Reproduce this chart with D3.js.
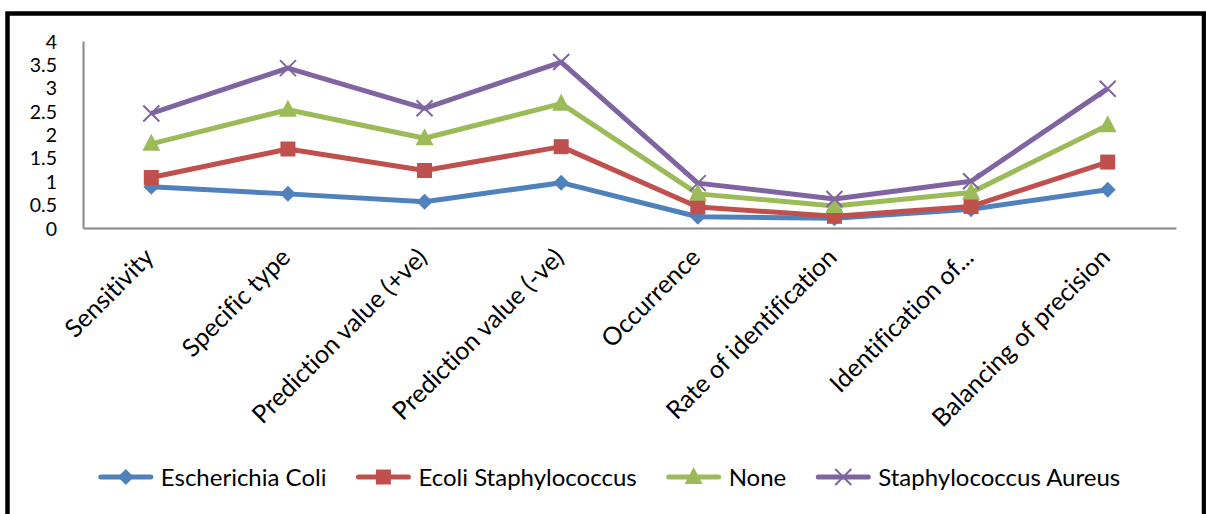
<!DOCTYPE html>
<html>
<head>
<meta charset="utf-8">
<script src="https://cdn.jsdelivr.net/npm/d3@7"></script>
<style>
  html, body { margin: 0; padding: 0; background: #fff; }
  svg { display: block; font-family: Lato, "Noto Sans", sans-serif; font-variant-ligatures: none; font-feature-settings: "liga" 0, "clig" 0; }
  svg text { font-variant-ligatures: none; font-feature-settings: "liga" 0, "clig" 0; }
</style>
</head>
<body>
<svg id="chart" width="1206" height="514"></svg>
<script>
// Diagnostic measures per category
const categories = [
  "Sensitivity", "Specific type", "Prediction value (+ve)", "Prediction value (-ve)",
  "Occurrence", "Rate of identification", "Identification of...", "Balancing of precision"
];

const seriesNames = ["Escherichia Coli", "Ecoli Staphylococcus", "None", "Staphylococcus Aureus"];

const escherichiaColi      = [0.88, 0.73, 0.56, 0.97, 0.24, 0.21, 0.40, 0.82];
const ecoliStaphylococcus  = [1.08, 1.69, 1.23, 1.74, 0.45, 0.25, 0.46, 1.41];
const noneValues           = [1.80, 2.53, 1.92, 2.66, 0.73, 0.47, 0.76, 2.20];
const staphylococcusAureus = [2.45, 3.42, 2.56, 3.55, 0.96, 0.62, 1.00, 2.98];

const yTicks = [0, 0.5, 1, 1.5, 2, 2.5, 3, 3.5, 4];

const seriesValues = [escherichiaColi, ecoliStaphylococcus, noneValues, staphylococcusAureus];
const colors = ["#4F81BD", "#C0504D", "#9BBB59", "#8064A2"];
const markers = ["diamond", "square", "triangle", "cross"];

const svg = d3.select("#chart");

// outer frame
svg.append("rect")
  .attr("x", 7.5).attr("y", 13.5)
  .attr("width", 1196.5).attr("height", 520)
  .attr("fill", "none").attr("stroke", "#000").attr("stroke-width", 4.5);

const plot = { left: 83, right: 1176, top: 41, bottom: 228 };

const x = d3.scaleBand().domain(categories).range([plot.left, plot.right]).padding(0);
const cx = c => x(c) + x.bandwidth() / 2;
const y = d3.scaleLinear().domain([0, 4]).range([plot.bottom, plot.top]);

// y axis
const yAxis = svg.append("g")
  .attr("transform", `translate(${plot.left},0)`)
  .call(d3.axisLeft(y).tickValues(yTicks).tickFormat(d => String(d)).tickSize(0).tickPadding(26));
yAxis.select(".domain").attr("stroke", "#868686").attr("stroke-width", 2);
yAxis.selectAll("text")
  .attr("fill", "#000")
  .attr("dy", "0.36em")
  .style("font-size", "19.5px")
  .style("font-family", "Lato, sans-serif");

// x axis
const xAxis = svg.append("g")
  .attr("transform", `translate(0,${plot.bottom})`)
  .call(d3.axisBottom(x).tickSize(0).tickFormat(""));
xAxis.select(".domain").attr("stroke", "#868686").attr("stroke-width", 2);

// rotated category labels
svg.append("g").selectAll("text")
  .data(categories)
  .join("text")
  .attr("text-anchor", "end")
  .attr("transform", d => `translate(${cx(d) + 4},${plot.bottom + 31}) rotate(-45)`)
  .attr("fill", "#000")
  .style("font-size", "25px")
  .text(d => d);

// marker shapes
function drawMarker(g, type, color) {
  if (type === "diamond") {
    g.append("path").attr("d", "M0,-8L8,0L0,8L-8,0Z").attr("fill", color);
  } else if (type === "square") {
    g.append("rect").attr("x", -7.5).attr("y", -7.5).attr("width", 15).attr("height", 15).attr("fill", color);
  } else if (type === "triangle") {
    g.append("path").attr("d", "M0,-10L9,7L-9,7Z").attr("fill", color);
  } else {
    g.append("path").attr("d", "M-8,-8L8,8M-8,8L8,-8").attr("stroke", color).attr("stroke-width", 2).attr("fill", "none");
  }
}

const line = d3.line().x((d, i) => cx(categories[i])).y(d => y(d));

seriesValues.forEach((vals, si) => {
  svg.append("path")
    .datum(vals)
    .attr("d", line)
    .attr("fill", "none")
    .attr("stroke", colors[si])
    .attr("stroke-width", 5)
    .attr("stroke-linejoin", "round");
});
seriesValues.forEach((vals, si) => {
  vals.forEach((v, i) => {
    const g = svg.append("g").attr("transform", `translate(${cx(categories[i])},${y(v)})`);
    drawMarker(g, markers[si], colors[si]);
  });
});

// legend, laid out from measured text widths and centred
const legend = svg.append("g");
const lineLen = 54, textGap = 8, itemGap = 30;
const items = seriesNames.map((name, i) => {
  const g = legend.append("g");
  g.append("line").attr("x1", 2).attr("x2", lineLen - 2).attr("y1", 0).attr("y2", 0)
    .attr("stroke", colors[i]).attr("stroke-width", 5).attr("stroke-linecap", "round");
  const mg = g.append("g").attr("transform", `translate(${lineLen / 2},0)`);
  drawMarker(mg, markers[i], colors[i]);
  const t = g.append("text").attr("x", lineLen + textGap).attr("dy", "0.36em")
    .style("font-size", "24px").attr("fill", "#000").text(name);
  return { g, w: lineLen + textGap + t.node().getComputedTextLength() };
});
const total = d3.sum(items, d => d.w) + itemGap * (items.length - 1);
let pos = 609.5 - total / 2;
items.forEach(it => {
  it.g.attr("transform", `translate(${pos},477)`);
  pos += it.w + itemGap;
});
</script>
</body>
</html>
